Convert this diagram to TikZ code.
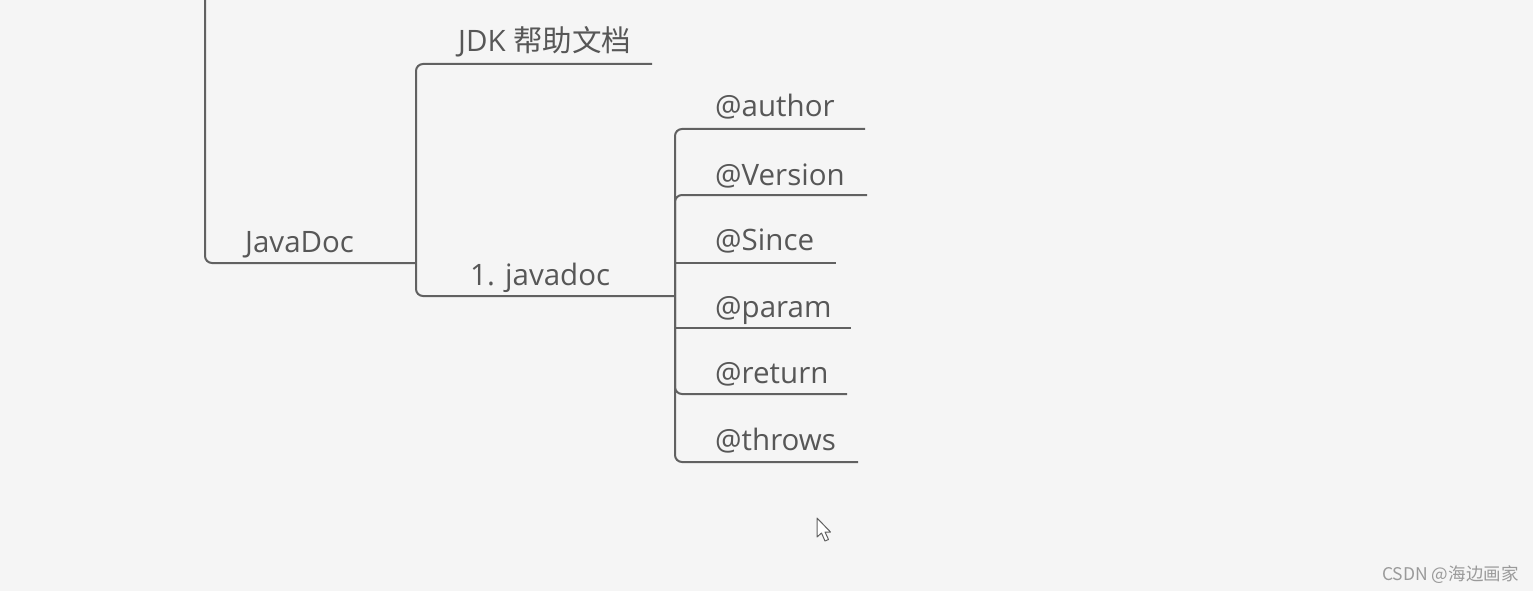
\documentclass[tikz,border=0pt]{standalone}
\usepackage{fontspec}
\setmainfont{Open Sans}
\newfontfamily\cjk{Noto Sans CJK SC}
\usepackage{tikz}
\usepackage{xcolor}
\definecolor{bggray}{HTML}{F5F5F5}
\definecolor{linegray}{HTML}{616161}
\definecolor{textgray}{HTML}{575757}
\definecolor{markgray}{HTML}{9A9A9A}

\begin{document}
\begin{tikzpicture}[x=1pt,y=-1pt,
	branch/.style={draw=linegray, line width=2pt, rounded corners=7pt},
	topic/.style={anchor=base west, inner sep=0pt, text=textgray, font=\fontsize{29.5}{33}\selectfont}]
	\fill[bggray](0,0) rectangle (1533,591);
	\useasboundingbox(0,0) rectangle (1533,591);

	% labels
	\node[topic](javadoc) at (245,252) {JavaDoc};
	\node[topic](jdk) at (458,52) {JDK {\cjk 帮助文档}};
	\node[topic](jdoc) at (470,285) {1. javadoc};
	\node[topic](author) at (715,117) {@author};
	\node[topic](version) at (715,185) {@Version};
	\node[topic](since) at (715,250) {@Since};
	\node[topic](param) at (715,317) {@param};
	\node[topic](return) at (715,383) {@return};
	\node[topic](throws) at (715,450) {@throws};

	% line ends
	\coordinate (root) at (205,0);
	\coordinate (javadocE) at (416,263);
	\coordinate (jdkE) at (652,64);
	\coordinate (jdocE) at (675,296);
	\coordinate (authorE) at (865,129);
	\coordinate (versionE) at (867,195);
	\coordinate (sinceE) at (836,263);
	\coordinate (paramE) at (851,328);
	\coordinate (returnE) at (847,394);
	\coordinate (throwsE) at (858,462);

	% branches
	\draw[branch](root) |- (javadocE);
	\draw[branch](jdkE) -| (javadocE |- jdocE) -- (jdocE);
	\draw[branch](authorE) -| (jdocE |- throwsE) -- (throwsE);
	\draw[branch](versionE) -| (jdocE |- returnE) -- (returnE);
	\draw[branch](jdocE |- sinceE) -- (sinceE);
	\draw[branch](jdocE |- paramE) -- (paramE);

	% cursor
	\draw[linegray, line width=1pt, fill=white, line join=round](817,518) -- (817,537) -- (821.5,533) -- (825,541) -- (828.5,539.5) -- (825,532) -- (830.5,532) -- cycle;

	% watermark
	\node[anchor=base west, inner sep=0pt, text=markgray, font=\cjk\fontsize{17.5}{20}\selectfont](mark) at (1382,580) {CSDN @海边画家};
\end{tikzpicture}
\end{document}
